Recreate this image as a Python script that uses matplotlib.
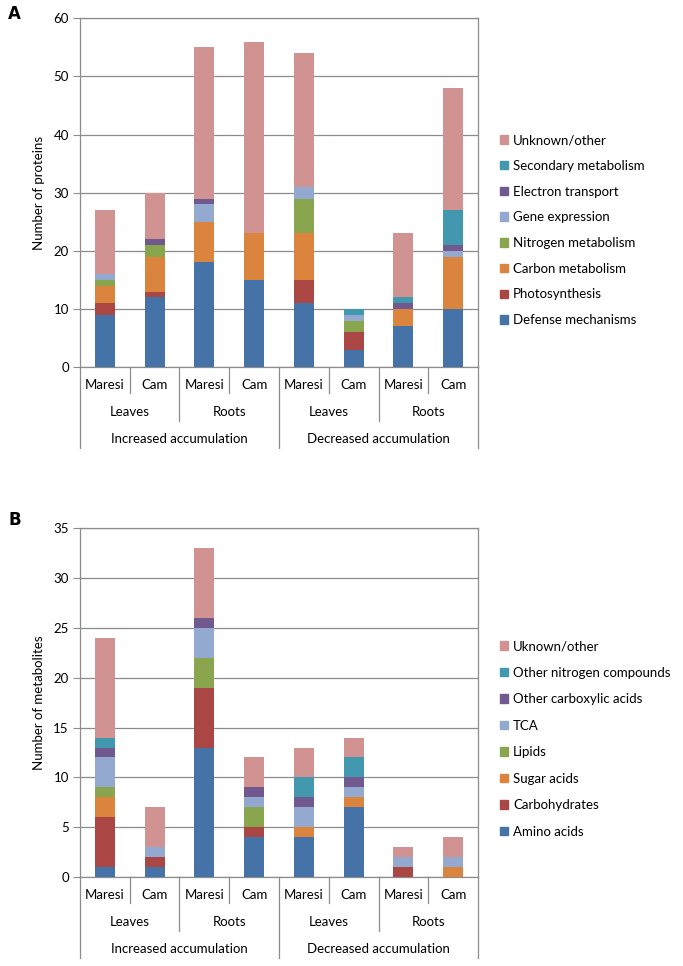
import matplotlib
matplotlib.use("Agg")
import matplotlib.pyplot as plt
import matplotlib.transforms as mtransforms
from matplotlib.patches import Patch

plt.rcParams['font.family'] = ['Lato', 'DejaVu Sans']
plt.rcParams['font.size'] = 9

# shared category axis
samples = ["Maresi", "Cam"] * 4
tissues = ["Leaves", "Roots", "Leaves", "Roots"]
groups = ["Increased accumulation", "Decreased accumulation"]

# panel A - proteins (bottom to top of stack)
prot_labels = ["Defense mechanisms", "Photosynthesis", "Carbon metabolism",
               "Nitrogen metabolism", "Gene expression", "Electron transport",
               "Secondary metabolism", "Unknown/other"]
defense = [9, 12, 18, 15, 11, 3, 7, 10]
photosynthesis = [2, 1, 0, 0, 4, 3, 0, 0]
carbon = [3, 6, 7, 8, 8, 0, 3, 9]
nitrogen = [1, 2, 0, 0, 6, 2, 0, 0]
gene_expr = [1, 0, 3, 0, 2, 1, 0, 1]
electron = [0, 1, 1, 0, 0, 0, 1, 1]
secondary = [0, 0, 0, 0, 0, 1, 1, 6]
unknown_prot = [11, 8, 26, 33, 23, 0, 11, 21]

# panel B - metabolites (bottom to top of stack)
met_labels = ["Amino acids", "Carbohydrates", "Sugar acids", "Lipids", "TCA",
              "Other carboxylic acids", "Other nitrogen compounds", "Uknown/other"]
amino = [1, 1, 13, 4, 4, 7, 0, 0]
carbohydrates = [5, 1, 6, 1, 0, 0, 1, 0]
sugar_acids = [2, 0, 0, 0, 1, 1, 0, 1]
lipids = [1, 0, 3, 2, 0, 0, 0, 0]
tca = [3, 1, 3, 1, 2, 1, 1, 1]
other_carbox = [1, 0, 1, 1, 1, 1, 0, 0]
other_nitro = [1, 0, 0, 0, 2, 2, 0, 0]
unknown_met = [10, 4, 7, 3, 3, 2, 1, 2]

colors = ["#4572A7", "#AA4643", "#DB843D", "#89A54E",
          "#93A9CF", "#71588F", "#4198AF", "#D19392"]
grey = "#8c8c8c"


def draw_panel(ax, series, labels, ymax, ystep, ylabel, leg_top, leg_space):
    x = range(len(samples))
    bottom = [0] * len(samples)
    for vals, col in zip(series, colors):
        ax.bar(x, vals, width=0.4, bottom=bottom, color=col, zorder=3)
        bottom = [b + v for b, v in zip(bottom, vals)]

    ax.set_xlim(-0.5, len(samples) - 0.5)
    ax.set_ylim(0, ymax)
    ax.set_yticks(range(0, ymax + 1, ystep))
    ax.yaxis.grid(True, color=grey, linewidth=0.9, zorder=0)
    ax.set_xticks([])
    for sp in ax.spines.values():
        sp.set_color(grey)
        sp.set_linewidth(0.9)
    ax.tick_params(axis='y', direction='out', length=5, color=grey,
                   labelsize=9.5, pad=3)
    ax.set_ylabel(ylabel, fontsize=9.5)
    ax.yaxis.set_label_coords(-0.087, 0.5)

    # hierarchical category axis
    tr = mtransforms.blended_transform_factory(ax.transData, ax.transAxes)
    for i, s in enumerate(samples):
        ax.text(i, -0.052, s, transform=tr, ha='center', va='center', fontsize=9.5)
    for i, t in enumerate(tissues):
        ax.text(2 * i + 0.5, -0.129, t, transform=tr, ha='center', va='center',
                fontsize=9.5)
    for i, g in enumerate(groups):
        ax.text(4 * i + 1.5, -0.206, g, transform=tr, ha='center', va='center',
                fontsize=9.5)
    for k in range(len(samples) + 1):
        if k % 4 == 0:
            depth = -0.232
        elif k % 2 == 0:
            depth = -0.155
        else:
            depth = -0.0745
        ax.plot([k - 0.5, k - 0.5], [0, depth], transform=tr, color=grey,
                linewidth=0.9, clip_on=False)

    handles = [Patch(color=c, label=l) for c, l in zip(colors, labels)][::-1]
    ax.legend(handles=handles, loc='upper left', bbox_to_anchor=(1.055, leg_top),
              frameon=False, fontsize=9.5, handlelength=0.6, handleheight=0.6,
              handletextpad=0.4, labelspacing=leg_space, borderpad=0,
              borderaxespad=0)


def main():
    fig = plt.figure(figsize=(6.83, 9.66), dpi=100)
    ax_a = fig.add_axes([0.117, 0.620, 0.583, 0.361])
    ax_b = fig.add_axes([0.117, 0.0921, 0.583, 0.361])

    draw_panel(ax_a, [defense, photosynthesis, carbon, nitrogen, gene_expr,
                      electron, secondary, unknown_prot],
               prot_labels, 60, 10, "Number of proteins", 0.668, 1.04)
    draw_panel(ax_b, [amino, carbohydrates, sugar_acids, lipids, tca,
                      other_carbox, other_nitro, unknown_met],
               met_labels, 35, 5, "Number of metabolites", 0.679, 1.1)

    fig.text(0.012, 0.986, "A", fontsize=12, fontweight='bold', va='center',
             family='DejaVu Sans')
    fig.text(0.012, 0.462, "B", fontsize=12, fontweight='bold', va='center',
             family='DejaVu Sans')

    fig.savefig("out.png", dpi=100)


if __name__ == "__main__":
    main()
